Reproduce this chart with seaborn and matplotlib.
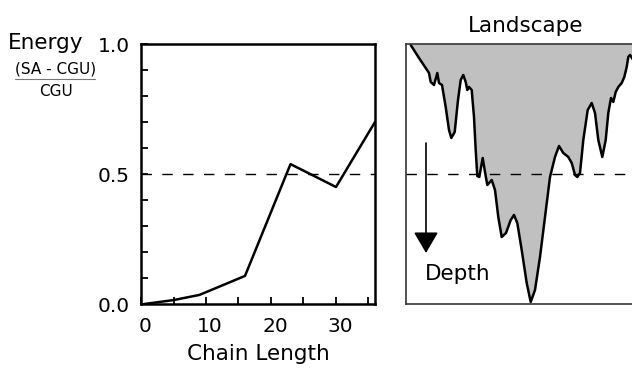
import numpy as np
import pandas as pd
import seaborn as sns
import matplotlib.pyplot as plt
from matplotlib.lines import Line2D
from matplotlib.transforms import ScaledTranslation

# energy vs chain length (left panel)
chain_length = [0.5, 5, 9, 16, 23, 30, 36]
energy = [0.0, 0.015, 0.035, 0.108, 0.538, 0.45, 0.70]

# landscape profile (right panel), x position and depth below top
landscape_x = [4.7, 13, 19.7, 23, 24.7, 28, 31.3, 33, 36, 39.7,
               43, 45.3, 48.7, 52, 54.7, 57.3, 59.7, 61.3, 63, 65.7,
               68, 69.7, 71.3, 73.3, 76.7, 79, 81.3, 85.7, 89, 92.3,
               95.7, 100, 104.7, 108, 111.3, 115.7, 120.7, 124.7, 129, 134,
               139, 144, 149, 153, 157.3, 162.3, 165.7, 169, 171.3, 174,
               177.3, 181.7, 185.7, 189, 192.3, 196.3, 199.7, 202.3, 205, 207.3,
               209.7, 212.3, 215.7, 218.3, 220.7, 222.3, 224, 226, 230]
landscape_depth = [1, 14, 24, 29, 38, 41, 29, 39, 41, 63,
                   86, 94, 88, 56, 36, 31, 38, 46, 43, 46,
                   73, 106, 132, 133, 114, 128, 141, 136, 146, 173,
                   193, 189, 176, 171, 179, 206, 239, 258, 246, 213,
                   173, 133, 113, 102, 109, 113, 119, 131, 133, 129,
                   96, 66, 59, 69, 96, 113, 96, 69, 54, 58,
                   48, 43, 39, 33, 23, 13, 11, 14, 20]

W, H = 632, 370
sns.set_style("ticks")
plt.rcParams['font.family'] = ['DejaVu Sans']
plt.rcParams['text.color'] = 'black'
plt.rcParams['xtick.color'] = 'black'
plt.rcParams['ytick.color'] = 'black'
plt.rcParams['axes.labelcolor'] = 'black'

fig = plt.figure(figsize=(W / 100, H / 100), dpi=100)
fig.set_facecolor("w")

def box(l, t, r, b):
    return [l / W, 1 - b / H, (r - l) / W, (b - t) / H]

# ---- left panel ----
ax = fig.add_axes(box(141, 44, 375, 304))
df = pd.DataFrame({'chain': chain_length, 'energy': energy})
sns.lineplot(data=df, x='chain', y='energy', ax=ax, color='black', lw=1.8)
ax.axhline(0.5, color='black', lw=1, dashes=(7.5, 7.5))
ax.set_xlim(0, 36)
ax.set_ylim(0, 1)
ax.set_xticks([0, 10, 20, 30])
ax.set_xticks([5, 15, 25, 35], minor=True)
ax.set_yticks([0, 0.5, 1.0])
ax.set_yticklabels(['0.0', '0.5', '1.0'])
ax.set_yticks(np.arange(0.1, 1.0, 0.1), minor=True)
ax.tick_params(which='both', direction='in', length=5, width=1.3,
               labelsize=14.5, pad=8)
ax.tick_params(axis='x', pad=9)
shift = ScaledTranslation(4 / 100, 0, fig.dpi_scale_trans)
for lab in ax.get_xticklabels():
    lab.set_transform(lab.get_transform() + shift)
for s in ax.spines.values():
    s.set_linewidth(1.8)
    s.set_color('black')
ax.set_xlabel('Chain Length', fontsize=15.5, labelpad=6)
ax.set_ylabel('')

fig.text(8 / W, 1 - 43 / H, 'Energy', fontsize=15.5, va='center', ha='left')
fig.text(56 / W, 1 - 69 / H, '(SA - CGU)', fontsize=11, va='center', ha='center')
fig.text(56 / W, 1 - 92 / H, 'CGU', fontsize=11, va='center', ha='center')
fig.add_artist(Line2D([15 / W, 95 / W], [1 - 79 / H, 1 - 79 / H],
                      color='#777777', lw=0.8))

# ---- right panel ----
ax2 = fig.add_axes(box(406, 44, 645, 304))
ax2.fill_between(landscape_x, 0, landscape_depth, color='#c0c0c0', lw=0)
ld = pd.DataFrame({'x': landscape_x, 'depth': landscape_depth})
sns.lineplot(data=ld, x='x', y='depth', ax=ax2, color='black', lw=1.8)
ax2.axhline(130, color='black', lw=1, dashes=(7.5, 7.5))
ax2.set_xlim(0, 239)
ax2.set_ylim(260, 0)
ax2.set_xticks([])
ax2.set_yticks([])
ax2.set_xlabel('')
ax2.set_ylabel('')
for s in ax2.spines.values():
    s.set_linewidth(1.2)
    s.set_color('#333333')
ax2.set_title('Landscape', fontsize=15.5, pad=9)
ax2.annotate('', xy=(20, 209), xytext=(20, 99),
             arrowprops=dict(arrowstyle='-|>,head_length=0.65,head_width=0.38',
                             mutation_scale=20, lw=1.2, color='black',
                             shrinkA=0, shrinkB=0))
ax2.text(19, 230, 'Depth', fontsize=15.5, va='center', ha='left')

fig.savefig('out.png', dpi=100)
